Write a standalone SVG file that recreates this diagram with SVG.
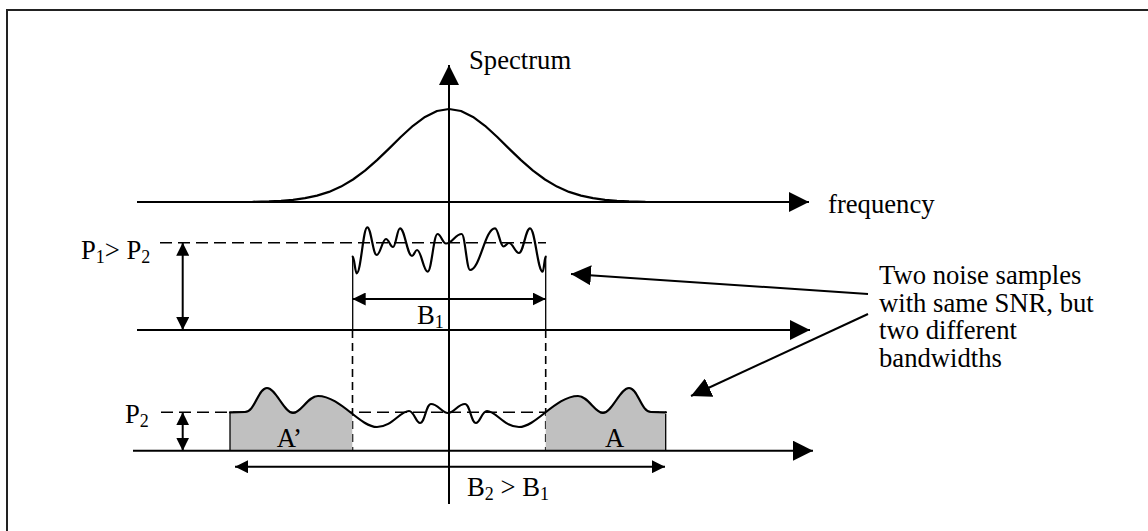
<svg xmlns="http://www.w3.org/2000/svg" width="1148" height="531" viewBox="0 0 1148 531">
<style>
  text { font-family: "Liberation Serif", "Times New Roman", serif; font-size: 26.67px; fill: #000; }
  .sub { font-size: 18px; }
  .ax { stroke: #000; stroke-width: 2; fill: none; }
  .thin { stroke: #000; stroke-width: 1.3; fill: none; }
  .dash { stroke: #000; stroke-width: 1.6; stroke-dasharray: 12 6; fill: none; }
  .vdash { stroke: #000; stroke-width: 1.6; stroke-dasharray: 8 5; fill: none; }
  .curve { stroke: #000; stroke-width: 2.2; fill: none; stroke-linejoin: round; stroke-linecap: round; }
</style>
<defs>
  <marker id="big" viewBox="0 0 20 20" refX="20" refY="10" markerWidth="20" markerHeight="20" markerUnits="userSpaceOnUse" orient="auto-start-reverse"><path d="M0,0 L20,10 L0,20 z" fill="#000"/></marker>
  <marker id="small" viewBox="0 0 13 13" refX="13" refY="6.5" markerWidth="13" markerHeight="13" markerUnits="userSpaceOnUse" orient="auto-start-reverse"><path d="M0,0 L13,6.5 L0,13 z" fill="#000"/></marker>
  <clipPath id="areas">
    <rect x="230" y="370" width="122.3" height="90"/>
    <rect x="545.7" y="370" width="120" height="90"/>
  </clipPath>
  <path id="wide" d="M230,412.3 L245,412 C255,412 258,388 267,388 C276,388 284,413 293,413 C301,413 308,396 318,396 C340,396 360,427 377,427 C392,427 400,411 409,411 C414,411 416,423 420,423 C425,423 426,404 431,404 C438,404 442,413 448,413 C454,413 458,404 465,404 C470,404 471,423 476,423 C480,423 482,411 487,411 C496,411 504,427 519,427 C536,427 556,396 578,396 C588,396 595,413 603,413 C612,413 620,388 629,388 C638,388 641,412 651,412 L666,412.3"/>
</defs>
<rect x="0" y="0" width="1148" height="531" fill="#fff"/>
<g id="frame">
  <rect x="7" y="10" width="1160" height="540" fill="none" stroke="#222" stroke-width="2"/>
</g>

<g id="spectrum-plot">
  <line class="ax" x1="137" y1="202" x2="809" y2="202" marker-end="url(#big)"/>
  <polyline class="curve" points="253,201.8 269,201.4 281,200.8 293,199.8 305,198.2 317,195.6 329,191.9 341,186.6 353,179.5 365,170.6 377,160.1 389,148.6 401,136.8 413,125.8 425,116.9 437,111.0 449,109 461,111.0 473,116.9 485,125.8 497,136.8 509,148.6 521,160.1 533,170.6 545,179.5 557,186.6 569,191.9 581,195.6 593,198.2 605,199.8 617,200.8 629,201.4 645,201.8"/>
  <text x="469" y="69">Spectrum</text>
  <text x="828" y="213">frequency</text>
</g>

<g id="noise-b1">
  <line class="dash" x1="160" y1="242.7" x2="546" y2="242.7"/>
  <line class="ax" x1="137" y1="330" x2="810" y2="330" marker-end="url(#big)"/>
  <line class="thin" x1="352.7" y1="256.7" x2="352.7" y2="330"/>
  <line class="thin" x1="545.7" y1="256.7" x2="545.7" y2="330"/>
  <path class="curve" d="M352.7,256.7 C354.3,256.7 355.1,273.3 356.7,273.3 C360.9,273.3 363.1,227.3 367.3,227.3 C371.1,227.3 372.9,255 376.7,255 C380.4,255 382.3,239 386,239 C388.8,239 390.2,247 393,247 C395.8,247 397.2,228.3 400,228.3 C404.8,228.3 407.2,256 412,256 C414,256 415,250 417,250 C421.3,250 423.4,271.7 427.7,271.7 C431.6,271.7 433.6,234 437.5,234 C440.9,234 442.6,243.5 446,243.5 C452.3,243.5 455.4,234 461.7,234 C465,234 466.7,270 470,270 C480,270 485,228.3 495,228.3 C498.4,228.3 500.1,246.5 503.5,246.5 C505.7,246.5 506.8,243 509,243 C513,243 515,253 519,253 C523.4,253 525.6,228.3 530,228.3 C535.1,228.3 537.6,271.7 542.7,271.7 C543.9,271.7 544.5,256.7 545.7,256.7"/>
  <line class="ax" x1="182.7" y1="242.7" x2="182.7" y2="330" marker-start="url(#small)" marker-end="url(#small)"/>
  <line class="ax" x1="352.7" y1="299" x2="545.7" y2="299" marker-start="url(#small)" marker-end="url(#small)"/>
  <text x="81" y="259">P<tspan class="sub" dy="4">1</tspan><tspan dy="-4">&gt; P</tspan><tspan class="sub" dy="4">2</tspan></text>
  <text x="417" y="324">B<tspan class="sub" dy="4">1</tspan></text>
</g>

<g id="noise-b2">
  <line class="vdash" x1="352.5" y1="330" x2="352.5" y2="450.7"/>
  <line class="vdash" x1="545.7" y1="330" x2="545.7" y2="450.7"/>
  <line class="dash" x1="161" y1="412.3" x2="666" y2="412.3"/>
  <g clip-path="url(#areas)">
    <path d="M230,412.3 L245,412 C255,412 258,388 267,388 C276,388 284,413 293,413 C301,413 308,396 318,396 C340,396 360,427 377,427 C392,427 400,411 409,411 C414,411 416,423 420,423 C425,423 426,404 431,404 C438,404 442,413 448,413 C454,413 458,404 465,404 C470,404 471,423 476,423 C480,423 482,411 487,411 C496,411 504,427 519,427 C536,427 556,396 578,396 C588,396 595,413 603,413 C612,413 620,388 629,388 C638,388 641,412 651,412 L666,412.3 L666,450.7 L230,450.7 Z" fill="#c0c0c0"/>
  </g>
  <line class="thin" x1="230" y1="412.3" x2="230" y2="450.7"/>
  <line class="thin" x1="665.7" y1="414" x2="665.7" y2="450.7"/>
  <use href="#wide" class="curve"/>
  <line class="ax" x1="133" y1="450.7" x2="813" y2="450.7" marker-end="url(#big)"/>
  <line class="ax" x1="182.7" y1="412.3" x2="182.7" y2="450.7" marker-start="url(#small)" marker-end="url(#small)"/>
  <line class="ax" x1="235" y1="466.7" x2="665" y2="466.7" marker-start="url(#small)" marker-end="url(#small)"/>
  <text x="125" y="423">P<tspan class="sub" dy="4">2</tspan></text>
  <text x="276.7" y="446.7">A’</text>
  <text x="605" y="446.7">A</text>
  <text x="467" y="496">B<tspan class="sub" dy="4">2</tspan><tspan dy="-4"> &gt; B</tspan><tspan class="sub" dy="4">1</tspan></text>
</g>

<g id="vertical-axis">
  <line class="ax" x1="449" y1="504" x2="449" y2="65" marker-end="url(#big)"/>
</g>

<g id="note">
  <text x="879" y="284">Two noise samples</text>
  <text x="879" y="311.5">with same SNR, but</text>
  <text x="879" y="339">two different</text>
  <text x="879" y="366.5">bandwidths</text>
</g>

<g id="connectors">
  <line class="ax" x1="868" y1="294" x2="571" y2="274" marker-end="url(#big)"/>
  <line class="ax" x1="868" y1="314" x2="691" y2="396" marker-end="url(#big)"/>
</g>
</svg>
